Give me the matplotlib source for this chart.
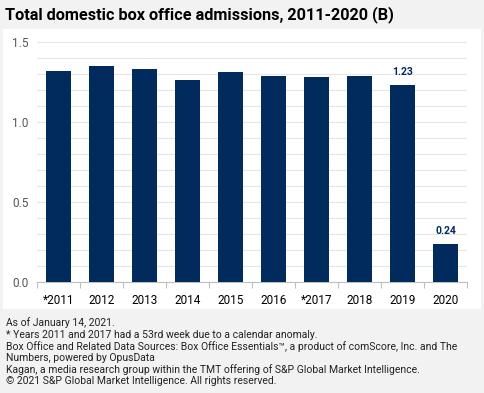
import matplotlib.pyplot as plt
from matplotlib.patches import Rectangle
from matplotlib.ticker import MultipleLocator

plt.rcParams['font.family'] = ['Roboto', 'DejaVu Sans']

# Data
years = ['*2011', '2012', '2013', '2014', '2015', '2016', '*2017', '2018', '2019', '2020']
admissions = [1.32, 1.35, 1.33, 1.26, 1.31, 1.29, 1.28, 1.29, 1.23, 0.24]
labelled = {8: '1.23', 9: '0.24'}

navy = '#002b5c'

fig = plt.figure(figsize=(4.84, 3.93), dpi=100)
fig.patch.set_facecolor('#f2f2f2')

# white panel behind the chart
fig.patches.append(Rectangle((3 / 484, 1 - 309 / 393), 478 / 484, 280 / 393,
                             transform=fig.transFigure, facecolor='white',
                             edgecolor='none', zorder=-1))

ax = fig.add_axes([37 / 484, 1 - 282 / 393, 430 / 484, 240 / 393])
ax.set_facecolor('white')

x = range(len(years))
ax.bar(x, admissions, width=0.58, color=navy, zorder=3)

for i, txt in labelled.items():
    ax.text(i, admissions[i] + 0.05, txt, ha='center', va='bottom',
            color=navy, fontsize=7.5, fontweight='bold')

ax.set_xlim(-0.5, len(years) - 0.5)
ax.set_ylim(0, 1.5)
ax.yaxis.set_major_locator(MultipleLocator(0.5))
ax.yaxis.set_minor_locator(MultipleLocator(0.1))
ax.grid(axis='y', which='both', color='#e6e6e6', linewidth=0.8, zorder=0)
ax.set_yticks([0, 0.5, 1.0, 1.5])
ax.set_yticklabels(['0.0', '0.5', '1.0', '1.5'])
ax.tick_params(axis='y', which='both', length=0, labelsize=8.5,
               labelcolor='#555555', pad=6)

ax.set_xticks(list(x))
ax.set_xticklabels(years)
ax.set_xticks([i + 0.5 for i in range(-1, len(years))], minor=True)
ax.tick_params(axis='x', which='major', length=0, labelsize=8.5, pad=9)
ax.tick_params(axis='x', which='minor', length=4, color='#bfbfbf', width=0.8)

for s in ['top', 'right', 'left']:
    ax.spines[s].set_visible(False)
ax.spines['bottom'].set_color('#bfbfbf')

fig.text(5 / 484, 1 - 15 / 393, 'Total domestic box office admissions, 2011-2020 (B)',
         fontsize=11.7, fontweight='bold', va='center', ha='left')

notes = [
    'As of January 14, 2021.',
    '* Years 2011 and 2017 had a 53rd week due to a calendar anomaly.',
    'Box Office and Related Data Sources: Box Office Essentials\u2122, a product of comScore, Inc. and The',
    'Numbers, powered by OpusData',
    'Kagan, a media research group within the TMT offering of S&P Global Market Intelligence.',
    '\u00a9 2021 S&P Global Market Intelligence. All rights reserved.',
]
for k, line in enumerate(notes):
    fig.text(6 / 484, 1 - (323 + k * 11.6) / 393, line, fontsize=7.45,
             va='center', ha='left', color='#222222')

fig.savefig('out.png', dpi=100, facecolor=fig.get_facecolor())
